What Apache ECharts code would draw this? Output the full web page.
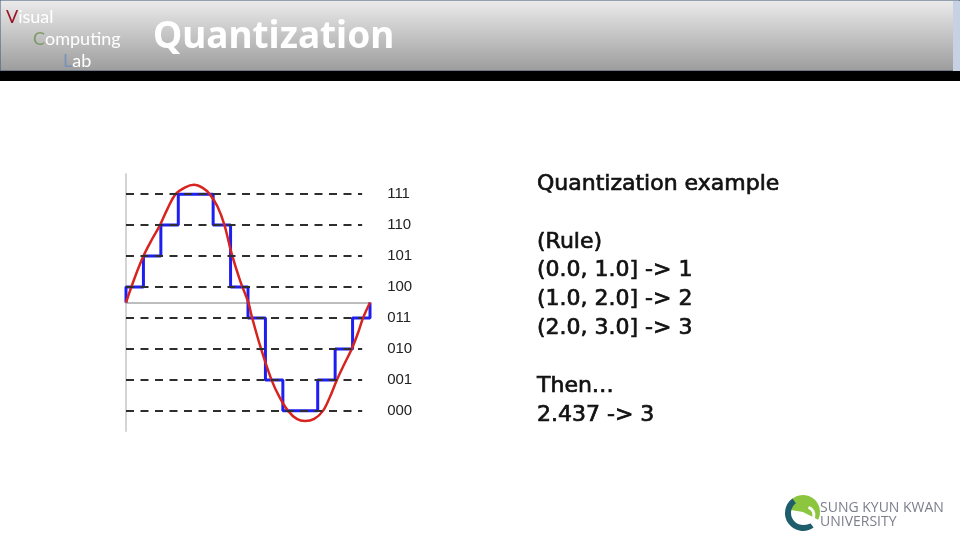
<!DOCTYPE html>
<html>
<head>
<meta charset="utf-8">
<script src="https://cdn.jsdelivr.net/npm/echarts@6/dist/echarts.min.js"></script>
<style>
  html, body { margin: 0; padding: 0; background: #fff; }
  #main { width: 960px; height: 540px; }
</style>
</head>
<body>
<div id="main"></div>
<script>
// quantization levels (3 bit)
const levelValues = [3.5, 2.5, 1.5, 0.5, -0.5, -1.5, -2.5, -3.5]
const levelCodes = ["111", "110", "101", "100", "011", "010", "001", "000"]

// held value for each of the 14 sample intervals
const sampleLevels = [0.5, 1.5, 2.5, 3.5, 3.5, 2.5, 0.5, -0.5, -2.5, -3.5, -3.5, -2.5, -1.5, -0.5]

// analog signal (x in sample units)
const analogX = [0, 0.5, 1.0, 1.5, 1.95, 2.4, 2.85, 3.4, 3.9, 4.4, 4.8, 5.25, 5.65, 6.05, 6.55, 7.02,
    7.24, 7.75, 8.35, 8.8, 9.3, 9.8, 10.27, 10.8, 11.3, 11.7, 12.1, 12.5, 12.95, 13.3, 13.6, 14.0]
const analogY = [0, 0.8, 1.5, 2.05, 2.5, 3.05, 3.5, 3.72, 3.8, 3.7, 3.5, 3.1, 2.5, 1.6, 0.7, 0,
    -0.5, -1.5, -2.5, -3.05, -3.5, -3.76, -3.83, -3.76, -3.5, -3.05, -2.5, -2.02, -1.5, -1.0, -0.5, 0]

const dashEnd = 13.55

const stepData = [[0, 0]]
sampleLevels.forEach((v, i) => {
    stepData.push([i, v])
    stepData.push([i + 1, v])
})
stepData.push([sampleLevels.length, 0])

const analogData = analogX.map((x, i) => [x, analogY[i]])

const textFont = '"DejaVu Sans", sans-serif'
const ruleLines = [
    { t: "Quantization example", y: 183 },
    { t: "(Rule)", y: 241 },
    { t: "(0.0, 1.0] -> 1", y: 269 },
    { t: "(1.0, 2.0] -> 2", y: 298 },
    { t: "(2.0, 3.0] -> 3", y: 327 },
    { t: "Then…", y: 385 },
    { t: "2.437 -> 3", y: 414 }
]

const labFont = '18px Lato, sans-serif'

const myChart = echarts.init(document.getElementById("main"))
myChart.setOption({
    backgroundColor: "#ffffff",
    animation: false,
    grid: {
        left: 126,
        top: 174,
        width: 244,
        height: 257
    },
    xAxis: {
        type: "value",
        min: 0,
        max: 14,
        axisLine: {
            onZero: true,
            lineStyle: { color: "#a8a8a8", width: 1.5 }
        },
        axisTick: { show: false },
        axisLabel: { show: false },
        splitLine: { show: false }
    },
    yAxis: {
        type: "value",
        min: -4.15,
        max: 4.15,
        axisLine: {
            show: true,
            onZero: false,
            lineStyle: { color: "#d4d4d4", width: 2 }
        },
        axisTick: { show: false },
        axisLabel: { show: false },
        splitLine: { show: false }
    },
    series: [
        {
            name: "levels",
            type: "line",
            data: [],
            silent: true,
            markLine: {
                silent: true,
                symbol: "none",
                lineStyle: { color: "#2e2e2e", width: 2, type: [8, 6.5] },
                label: {
                    show: true,
                    position: "end",
                    distance: 25,
                    color: "#222222",
                    fontSize: 15,
                    fontFamily: "Liberation Sans, Arial, sans-serif",
                    formatter: (p) => p.data.code
                },
                data: levelValues.map((v, i) => [
                    { coord: [0, v], code: levelCodes[i] },
                    { coord: [dashEnd, v] }
                ])
            }
        },
        {
            name: "quantized",
            type: "line",
            data: stepData,
            symbol: "none",
            lineStyle: { color: "#1e1ef0", width: 3 },
            z: 3
        },
        {
            name: "analog",
            type: "line",
            data: analogData,
            symbol: "none",
            smooth: 0.35,
            lineStyle: { color: "#d82420", width: 2.5 },
            z: 4
        }
    ],
    graphic: [
        // header band
        {
            type: "rect",
            shape: { x: 0, y: 0, width: 960, height: 71 },
            style: {
                fill: new echarts.graphic.LinearGradient(0, 0, 0, 1, [
                    { offset: 0, color: "#ececec" },
                    { offset: 1, color: "#9c9c9c" }
                ]),
                stroke: "#3d5573",
                lineWidth: 1
            },
            z: 10
        },
        {
            type: "rect",
            shape: { x: 0, y: 71, width: 960, height: 10 },
            style: { fill: "#000000" },
            z: 10
        },
        {
            type: "rect",
            shape: { x: 953, y: 1, width: 7, height: 70 },
            style: { fill: "#c6d2e4" },
            z: 10
        },
        {
            type: "text",
            x: 153,
            y: 37,
            style: {
                text: "Quantization",
                fill: "#ffffff",
                font: 'bold 37px "Noto Sans", sans-serif',
                verticalAlign: "middle"
            },
            z: 11
        },
        {
            type: "text", x: 6, y: 17,
            style: {
                text: "{v|V}isual", fill: "#ffffff", font: labFont, verticalAlign: "middle",
                rich: { v: { fill: "#9a1020", font: labFont } }
            },
            z: 11
        },
        {
            type: "text", x: 33, y: 39,
            style: {
                text: "{c|C}omputing", fill: "#ffffff", font: labFont, verticalAlign: "middle",
                rich: { c: { fill: "#7e9a68", font: labFont } }
            },
            z: 11
        },
        {
            type: "text", x: 63, y: 61,
            style: {
                text: "{l|L}ab", fill: "#ffffff", font: labFont, verticalAlign: "middle",
                rich: { l: { fill: "#7a92b8", font: labFont } }
            },
            z: 11
        },
        // right text block
        ...ruleLines.map((l) => ({
            type: "text",
            x: 537,
            y: l.y + 1,
            style: {
                text: l.t,
                fill: "#111111",
                stroke: "#111111",
                lineWidth: 0.7,
                font: "22px " + textFont,
                verticalAlign: "middle"
            },
            z: 11
        })),
        // university logo
        {
            type: "sector",
            shape: { cx: 803, cy: 512, r0: 0, r: 17, startAngle: -Math.PI * 0.95, endAngle: Math.PI * 0.15 },
            style: { fill: "#8cc63e" },
            z: 11
        },
        {
            type: "arc",
            shape: { cx: 803, cy: 513, r: 15, startAngle: Math.PI * 0.3, endAngle: Math.PI * 1.3 },
            style: { stroke: "#1d5d6c", lineWidth: 6, fill: null },
            z: 12
        },
        {
            type: "arc",
            shape: { cx: 806, cy: 515, r: 8, startAngle: -Math.PI * 0.4, endAngle: Math.PI * 0.6 },
            style: { stroke: "#ffffff", lineWidth: 3, fill: null },
            z: 12
        },
        {
            type: "text", x: 820, y: 508,
            style: { text: "SUNG KYUN KWAN", fill: "#7c7e8c", font: '14px "Open Sans", sans-serif', verticalAlign: "middle" },
            z: 11
        },
        {
            type: "text", x: 820, y: 522,
            style: { text: "UNIVERSITY", fill: "#7c7e8c", font: '14px "Open Sans", sans-serif', verticalAlign: "middle" },
            z: 11
        }
    ]
})
</script>
</body>
</html>
